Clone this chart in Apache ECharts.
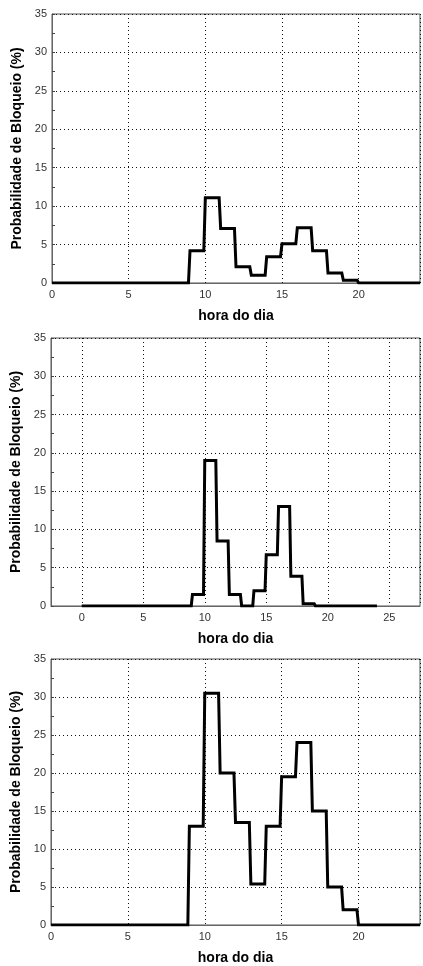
<!DOCTYPE html>
<html>
<head>
<meta charset="utf-8">
<script src="https://cdn.jsdelivr.net/npm/echarts@6/dist/echarts.min.js"></script>
<style>
  html, body { margin: 0; padding: 0; background: #fff; }
  #chart { width: 423px; height: 966px; }
</style>
</head>
<body>
<div id="chart"></div>
<script>
// hora do dia (inicio de cada intervalo de 1 h)
var horas = [0, 1, 2, 3, 4, 5, 6, 7, 8, 9, 10, 11, 12, 13, 14, 15, 16, 17, 18, 19, 20, 21, 22, 23];
// probabilidade de bloqueio (%) por hora, um array por painel
var bloqueioA = [0, 0, 0, 0, 0, 0, 0, 0, 0, 4.2, 11.1, 7.1, 2.1, 1.0, 3.4, 5.1, 7.2, 4.2, 1.3, 0.35, 0, 0, 0, 0];
var bloqueioB = [0, 0, 0, 0, 0, 0, 0, 0, 0, 1.5, 19.0, 8.5, 1.5, 0, 2.0, 6.7, 13.0, 3.9, 0.3, 0, 0, 0, 0, 0];
var bloqueioC = [0, 0, 0, 0, 0, 0, 0, 0, 0, 13.0, 30.5, 20.0, 13.5, 5.4, 13.0, 19.5, 24.0, 15.0, 5.0, 2.0, 0, 0, 0, 0];
var ticksY = [0, 5, 10, 15, 20, 25, 30, 35];

// cada hora vira um patamar (h .. h+0.9), com rampa curta ate a hora seguinte
function degraus(vals) {
  var pts = [];
  for (var i = 0; i < horas.length; i++) {
    pts.push([horas[i], vals[i]]);
    pts.push([horas[i] + 0.9, vals[i]]);
  }
  pts.push([horas[horas.length - 1] + 1, vals[vals.length - 1]]);
  return pts;
}

var fonte = 'Liberation Sans, Arial, sans-serif';
var pontilhado = { show: true, lineStyle: { color: '#111', width: 1, type: [1, 3] } };

function eixoX(idx, min, max) {
  return {
    type: 'value', gridIndex: idx, min: min, max: max, splitNumber: 6,
    name: 'hora do dia', nameLocation: 'middle', nameGap: 26,
    nameTextStyle: { fontFamily: fonte, fontSize: 14, fontWeight: 'bold', color: '#000' },
    axisLine: { show: true, onZero: false, lineStyle: { color: '#666', width: 1 } },
    axisTick: { show: false },
    axisLabel: {
      fontFamily: fonte, fontSize: 11, color: '#333', margin: 6,
      formatter: function (v) { return v % 5 === 0 ? String(v) : ''; }
    },
    splitLine: pontilhado
  };
}

function eixoY(idx) {
  return {
    type: 'value', gridIndex: idx, min: ticksY[0], max: ticksY[ticksY.length - 1], interval: 5,
    name: 'Probabilidade de Bloqueio (%)', nameLocation: 'middle', nameGap: 27,
    nameTextStyle: { fontFamily: fonte, fontSize: 14, fontWeight: 'bold', color: '#000' },
    axisLine: { show: true, onZero: false, lineStyle: { color: '#666', width: 1 } },
    axisTick: { show: true, inside: true, length: 3, lineStyle: { color: '#444' } },
    minorTick: { show: true, splitNumber: 2, length: 3, lineStyle: { color: '#444' } },
    axisLabel: { fontFamily: fonte, fontSize: 11, color: '#333', margin: 5 },
    splitLine: pontilhado
  };
}

function serie(idx, vals) {
  return {
    type: 'line', xAxisIndex: idx, yAxisIndex: idx,
    data: degraus(vals), showSymbol: false, symbol: 'none',
    lineStyle: { color: '#000', width: 3, join: 'miter' },
    z: 5, animation: false
  };
}

var myChart = echarts.init(document.getElementById('chart'));
var option = {
  backgroundColor: '#fff',
  animation: false,
  grid: [
    { left: 52, top: 14, width: 370, height: 269, show: true, borderColor: '#555', borderWidth: 1 },
    { left: 51, top: 338, width: 374, height: 268, show: true, borderColor: '#555', borderWidth: 1 },
    { left: 51, top: 659, width: 371, height: 268, show: true, borderColor: '#555', borderWidth: 1 }
  ],
  xAxis: [eixoX(0, 0, 24), eixoX(1, -2.5, 27.5), eixoX(2, 0, 24)],
  yAxis: [eixoY(0), eixoY(1), eixoY(2)],
  series: [serie(0, bloqueioA), serie(1, bloqueioB), serie(2, bloqueioC)]
};
myChart.setOption(option);
</script>
</body>
</html>
